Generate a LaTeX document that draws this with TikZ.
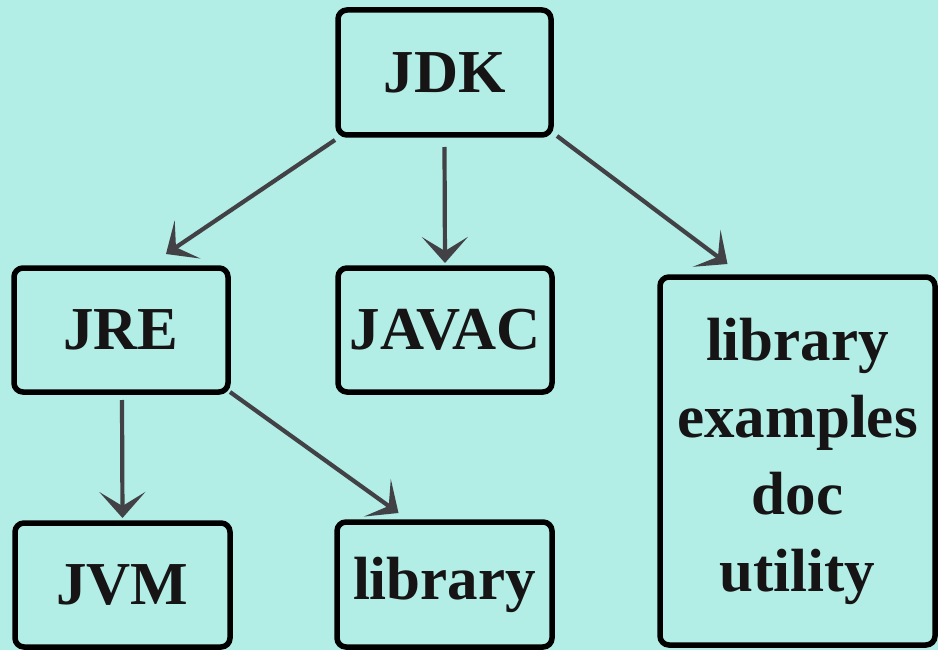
\documentclass[tikz,border=0pt]{standalone}
\usepackage{fontspec}
\setmainfont{Liberation Serif}
\usetikzlibrary{arrows.meta}
\definecolor{bg}{RGB}{178,237,230}
\definecolor{arrowgray}{RGB}{66,66,70}
\definecolor{ink}{RGB}{22,20,20}
\tikzset{
  box/.style={draw=black, line width=5.5pt, rounded corners=9pt, rectangle,
    inner sep=0pt, outer sep=0pt, text=ink,
    font=\fontsize{61}{77}\selectfont\bfseries, align=center},
  conn/.style={draw=arrowgray, line width=4.2pt,
    -{Stealth[length=26pt, width=46pt, inset=14pt]}}
}
\begin{document}
\begin{tikzpicture}[x=1pt,y=-1pt]
\fill[bg] (0,0) rectangle (938,650);
\useasboundingbox (0,0) rectangle (938,650);
\node[box, minimum width=213pt, minimum height=125pt] (jdk) at (444.5,72.5) {JDK};
\node[box, minimum width=214pt, minimum height=124pt] (jre) at (121,330) {JRE};
\node[box, minimum width=214pt, minimum height=124pt] (javac) at (445,330) {JAVAC};
\node[box, minimum width=275pt, minimum height=368pt] (tools) at (797.5,461) {library\\examples\\doc\\utility};
\node[box, minimum width=215pt, minimum height=124pt] (jvm) at (122.5,585) {JVM};
\node[box, minimum width=215pt, minimum height=125pt] (lib) at (444.5,584.5) {library};
\draw[conn] ([shift={(-3,5)}]jdk.south west) -- ([shift={(45,-14)}]jre.north);
\draw[conn] ([shift={(0,12)}]jdk.south) -- ([shift={(0,-5)}]javac.north);
\draw[conn] ([shift={(6,1)}]jdk.south east) -- ([shift={(-70,-13)}]tools.north);
\draw[conn] ([shift={(1,8)}]jre.south) -- ([shift={(0,-5)}]jvm.north);
\draw[conn] ([shift={(2,0)}]jre.south east) -- ([shift={(-46,-9)}]lib.north);
\end{tikzpicture}
\end{document}
